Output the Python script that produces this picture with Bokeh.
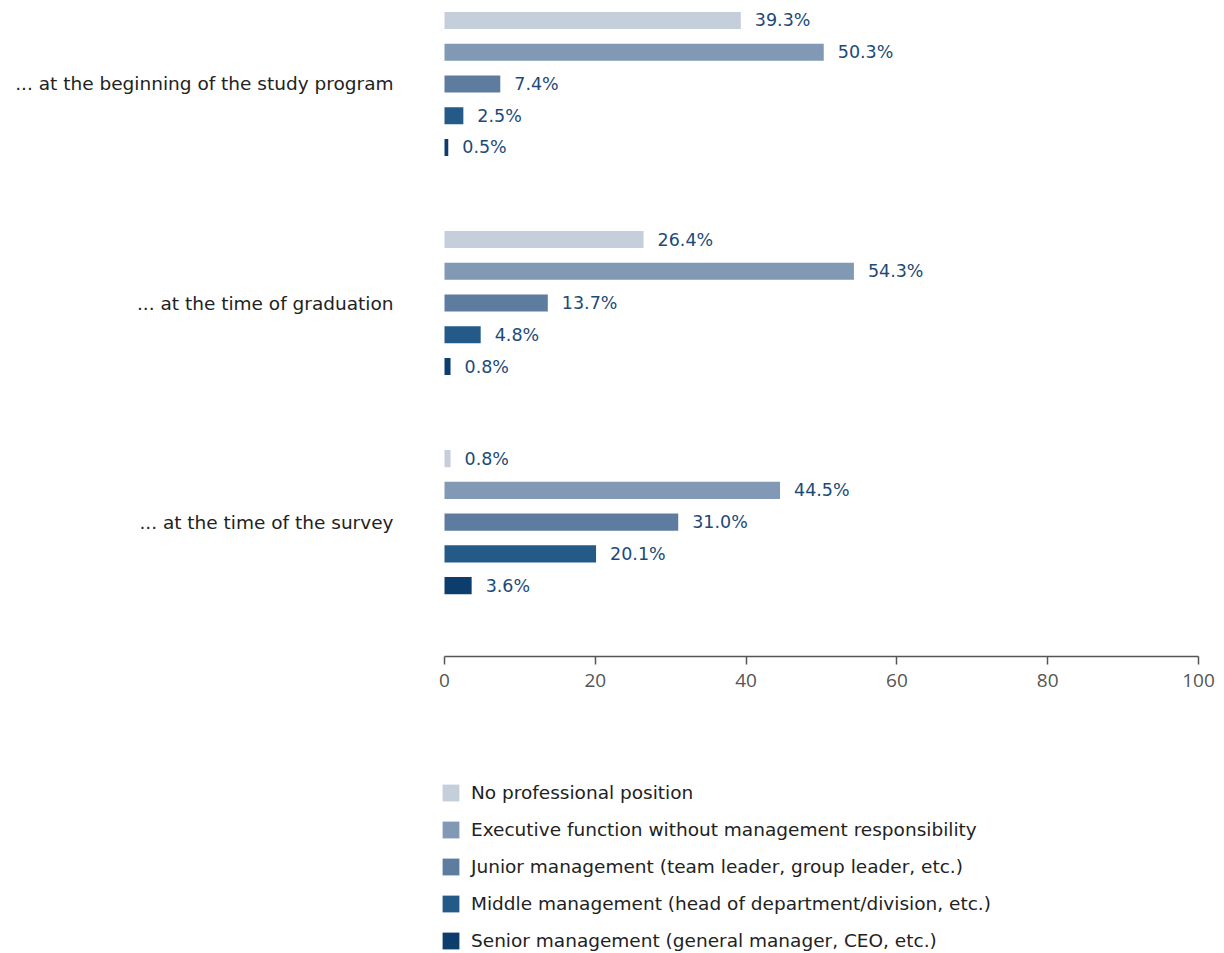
from bokeh.plotting import figure
from bokeh.models import ColumnDataSource, Range1d, FixedTicker, Legend, LegendItem, LabelSet
from bokeh.core.properties import value
from bokeh.embed import file_html
from bokeh.resources import INLINE

groups = ["... at the beginning of the study program",
          "... at the time of graduation",
          "... at the time of the survey"]
series = ["No professional position",
          "Executive function without management responsibility",
          "Junior management (team leader, group leader, etc.)",
          "Middle management (head of department/division, etc.)",
          "Senior management (general manager, CEO, etc.)"]
no_position = [39.3, 26.4, 0.8]
executive = [50.3, 54.3, 44.5]
junior = [7.4, 13.7, 31.0]
middle = [2.5, 4.8, 20.1]
senior = [0.5, 0.8, 3.6]
values = [no_position, executive, junior, middle, senior]
colors = ["#c5cfdc", "#8199b5", "#5e7ca0", "#245a87", "#0d3d6d"]
x_ticks = [0, 20, 40, 60, 80, 100]

FONT = "DejaVu Sans"
TICKFONT = "Open Sans"
GROUP_STEP = 6.9
AXIS_POS = 2 * GROUP_STEP + 4 + 2.23   # axis line a little below the last bar

p = figure(width=1224, height=953, output_backend="svg", toolbar_location=None,
           x_range=Range1d(-1.857, 103.45), y_range=Range1d(29.39, -0.63),
           min_border_left=430, min_border_right=0, min_border_top=0,
           min_border_bottom=0)
p.outline_line_color = None
p.grid.visible = False

renderers = []
for i, (name, vals, col) in enumerate(zip(series, values, colors)):
    ys = [g * GROUP_STEP + i for g in range(len(groups))]
    src = ColumnDataSource(dict(y=ys, x=vals, lab=[f"{v:.1f}%" for v in vals]))
    r = p.hbar(y="y", right="x", left=0, height=0.54, source=src,
               fill_color=col, line_color=None)
    renderers.append(r)
    p.add_layout(LabelSet(x="x", y="y", text="lab", source=src, x_offset=14,
                          text_baseline="middle", text_align="left",
                          text_font=value(FONT), text_font_size="17.5px",
                          text_color="#1d4a78"))

xa = p.xaxis[0]
xa.fixed_location = AXIS_POS
xa.bounds = (x_ticks[0], x_ticks[-1])
xa.ticker = FixedTicker(ticks=x_ticks)
xa.axis_line_color = "#555555"
xa.axis_line_width = 1.5
xa.major_tick_line_color = "#555555"
xa.major_tick_line_width = 1.5
xa.major_tick_in = 0
xa.major_tick_out = 8
xa.minor_tick_line_color = None
xa.major_label_text_font = TICKFONT
xa.major_label_text_font_size = "19px"
xa.major_label_text_color = "#555555"
xa.major_label_standoff = 10

ya = p.yaxis[0]
mids = [g * GROUP_STEP + 2 for g in range(len(groups))]
ya.ticker = FixedTicker(ticks=mids)
ya.major_label_overrides = {m: g for m, g in zip(mids, groups)}
ya.axis_line_color = None
ya.major_tick_line_color = None
ya.major_tick_out = 0
ya.major_tick_in = 0
ya.minor_tick_line_color = None
ya.major_label_standoff = 37
ya.major_label_text_font = FONT
ya.major_label_text_font_size = "18.5px"
ya.major_label_text_color = "#222222"

legend = Legend(items=[LegendItem(label=s, renderers=[r]) for s, r in zip(series, renderers)],
                location=(10, 1), orientation="vertical",
                glyph_width=21, glyph_height=21, label_height=23,
                spacing=14, padding=0, margin=0, label_standoff=10,
                label_text_font=FONT, label_text_font_size="18.5px",
                label_text_color="#222222", border_line_color=None,
                background_fill_alpha=0)
p.add_layout(legend, "center")

open("out.html", "w").write(file_html(p, INLINE))
